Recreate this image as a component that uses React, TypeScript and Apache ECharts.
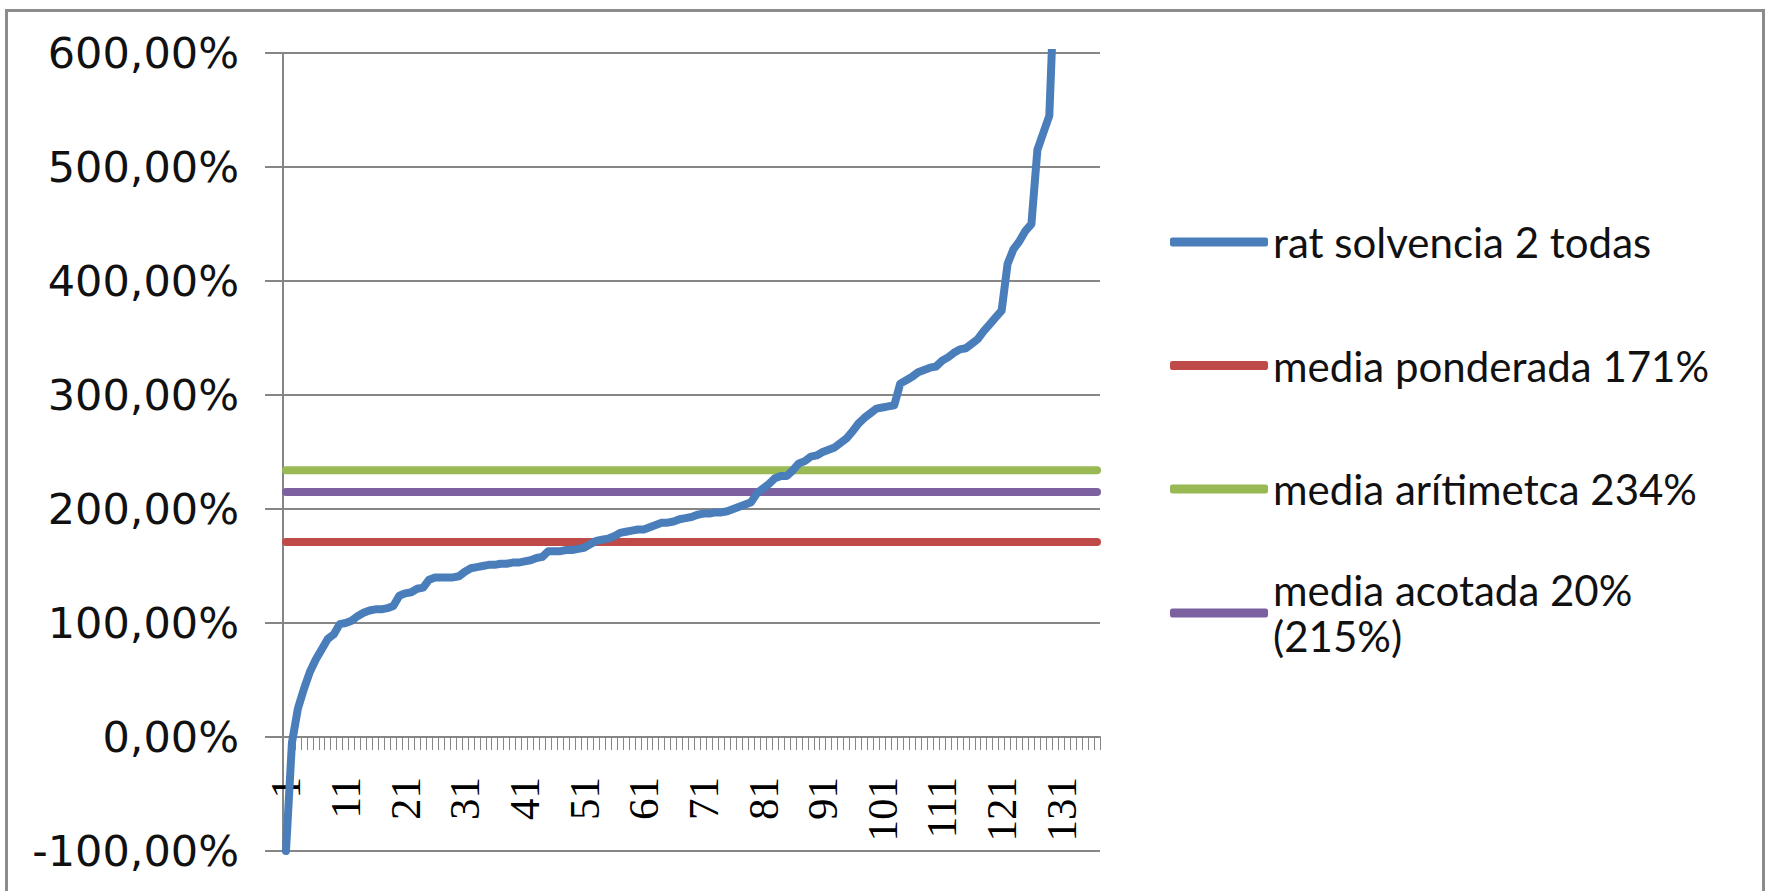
import React, { useEffect, useRef } from "react";
import * as echarts from "echarts";

// ---- data ----
const categories: string[] = Array.from({ length: 137 }, (_, i) => String(i + 1));

const ratSolvencia: number[] = [
  -100, -5, 25, 42, 57, 68, 77, 86, 90, 99,
  100, 102, 106, 109, 111, 112, 112, 113, 115, 124,
  126, 127, 130, 131, 138, 140, 140, 140, 140, 141,
  145, 148, 149, 150, 151, 151, 152, 152, 153, 153,
  154, 155, 157, 158, 163, 163, 163, 164, 164, 165,
  166, 169, 172, 173, 174, 176, 179, 180, 181, 182,
  182, 184, 186, 188, 188, 189, 191, 192, 193, 195,
  196, 196, 197, 197, 198, 200, 202, 204, 206, 214,
  218, 222, 227, 229, 229, 234, 240, 242, 246, 247,
  250, 252, 254, 258, 262, 268, 275, 280, 284, 288,
  289, 290, 291, 310, 313, 316, 320, 322, 324, 325,
  330, 333, 337, 340, 341, 345, 349, 356, 362, 368,
  374, 415, 428, 435, 444, 450, 515, 530, 545, 680,
  720, 780, 850, 950, 1100, 1400, 2000,
];

const mediaPonderada = 171;
const mediaAritmetica = 234;
const mediaAcotada = 215;

const seriesNames = [
  "rat solvencia 2 todas",
  "media ponderada 171%",
  "media arítimetca 234%",
  "media acotada 20% (215%)",
];
const seriesColors = ["#4A7EBB", "#BE4B48", "#98B954", "#7D60A0"];

const yMin = -100;
const yMax = 600;
const yStep = 100;

const first = categories[0];
const last = categories[categories.length - 1];

const GRID_TOP = 53;
const GRID_BOTTOM = 40;
const CHART_H = 891;

export default function App() {
  const ref = useRef<HTMLDivElement>(null);

  useEffect(() => {
    if (!ref.current) return;
    const chart = echarts.init(ref.current, null, { renderer: "svg" });

    // pixel distance from plot bottom (yMin) up to the zero line
    const plotH = CHART_H - GRID_TOP - GRID_BOTTOM;
    const zeroOffset = -((0 - yMin) / (yMax - yMin)) * plotH;

    const lineCommon = {
      type: "line" as const,
      showSymbol: false,
      symbol: "none",
      clip: true,
      silent: true,
    };

    chart.setOption({
      animation: false,
      backgroundColor: "#ffffff",
      grid: {
        left: 283,
        right: 675,
        top: GRID_TOP,
        bottom: GRID_BOTTOM,
        containLabel: false,
        outerBoundsMode: "none",
      },
      xAxis: {
        type: "category",
        data: categories,
        boundaryGap: true,
        position: "bottom",
        offset: zeroOffset,
        axisLine: { show: true, onZero: false, lineStyle: { color: "#868686", width: 2 } },
        axisTick: { show: true, interval: 0, length: 13, lineStyle: { color: "#868686", width: 1 } },
        axisLabel: {
          interval: 9,
          rotate: 90,
          margin: 40,
          fontFamily: "Liberation Serif",
          fontSize: 43,
          color: "#000",
        },
        splitLine: { show: false },
      },
      yAxis: {
        type: "value",
        min: yMin,
        max: yMax,
        interval: yStep,
        axisLine: { show: true, lineStyle: { color: "#868686", width: 2 } },
        axisTick: { show: true, length: 18, lineStyle: { color: "#868686", width: 2 } },
        axisLabel: {
          margin: 44,
          fontFamily: "DejaVu Sans",
          fontSize: 43,
          color: "#111",
          formatter: (v: number) => `${v},00%`,
        },
        splitLine: { show: true, lineStyle: { color: "#868686", width: 2 } },
      },
      legend: [
        {
          orient: "vertical",
          left: 1170,
          top: 219,
          padding: 0,
          itemGap: 77.5,
          itemWidth: 98,
          itemHeight: 9,
          icon: "roundRect",
          selectedMode: false,
          data: seriesNames.slice(0, 3),
          textStyle: { fontFamily: "Lato", fontSize: 42, color: "#111", lineHeight: 46 },
        },
        {
          orient: "vertical",
          left: 1170,
          top: 544,
          padding: 0,
          itemWidth: 98,
          itemHeight: 9,
          icon: "roundRect",
          selectedMode: false,
          data: [seriesNames[3]],
          formatter: () => "media acotada 20%\n(215%)",
          textStyle: {
            fontFamily: "Lato",
            fontSize: 42,
            color: "#111",
            lineHeight: 46,
            padding: [46, 0, 0, 0],
          },
        },
      ],
      graphic: [
        {
          type: "rect",
          right: 9,
          top: 8,
          shape: { x: 0, y: 0, width: 1757, height: 930 },
          style: { fill: "none", stroke: "#8c8c8c", lineWidth: 3 },
          silent: true,
        },
      ],
      series: [
        {
          ...lineCommon,
          name: seriesNames[0],
          data: ratSolvencia,
          color: seriesColors[0],
          lineStyle: { color: seriesColors[0], width: 8, cap: "round", join: "round" },
          z: 5,
        },
        {
          ...lineCommon,
          name: seriesNames[1],
          data: [[first, mediaPonderada], [last, mediaPonderada]],
          color: seriesColors[1],
          lineStyle: { color: seriesColors[1], width: 8, cap: "round" },
          z: 3,
        },
        {
          ...lineCommon,
          name: seriesNames[2],
          data: [[first, mediaAritmetica], [last, mediaAritmetica]],
          color: seriesColors[2],
          lineStyle: { color: seriesColors[2], width: 8, cap: "round" },
          z: 3,
        },
        {
          ...lineCommon,
          name: seriesNames[3],
          data: [[first, mediaAcotada], [last, mediaAcotada]],
          color: seriesColors[3],
          lineStyle: { color: seriesColors[3], width: 8, cap: "round" },
          z: 3,
        },
      ],
    });

    return () => {
      chart.dispose();
    };
  }, []);

  return (
    <div
      ref={ref}
      style={{ position: "fixed", left: 0, top: 0, width: 1775, height: 891, background: "#fff" }}
    />
  );
}
